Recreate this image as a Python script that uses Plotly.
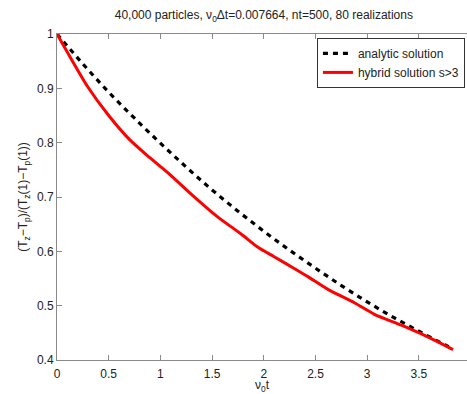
import plotly.graph_objects as go

# Data
t_analytic = [0, 0.25, 0.5, 0.75, 1.0, 1.25, 1.5, 1.75, 2.0, 2.25, 2.5, 2.75, 3.0, 3.25, 3.5, 3.75, 3.83]
y_analytic = [1.0, 0.945, 0.893, 0.845, 0.799, 0.755, 0.713, 0.674, 0.637, 0.602, 0.569, 0.537, 0.507, 0.479, 0.453, 0.428, 0.421]

t_hybrid = [0, 0.15, 0.3, 0.5, 0.7, 0.9, 1.1, 1.3, 1.55, 1.78, 1.94, 2.1, 2.29, 2.43, 2.62, 2.88, 3.07, 3.33, 3.59, 3.83]
y_hybrid = [1.0, 0.950, 0.902, 0.850, 0.806, 0.772, 0.740, 0.705, 0.664, 0.632, 0.608, 0.590, 0.569, 0.553, 0.530, 0.505, 0.484, 0.464, 0.442, 0.419]

x_ticks = [0, 0.5, 1, 1.5, 2, 2.5, 3, 3.5]
x_tick_text = ["0", "0.5", "1", "1.5", "2", "2.5", "3", "3.5"]
y_ticks = [0.4, 0.5, 0.6, 0.7, 0.8, 0.9, 1.0]
y_tick_text = ["0.4", "0.5", "0.6", "0.7", "0.8", "0.9", "1"]

FONT = "Liberation Sans, Arial, Helvetica, sans-serif"
AXIS = "#8a8a8a"

fig = go.Figure()
fig.add_trace(go.Scatter(x=t_analytic, y=y_analytic, mode="lines", name="analytic solution",
                         line=dict(color="black", width=3.2, dash="5px,5px", shape="spline")))
fig.add_trace(go.Scatter(x=t_hybrid, y=y_hybrid, mode="lines", name="hybrid solution s>3",
                         line=dict(color="#ff0000", width=3, shape="spline", smoothing=0.8)))

fig.update_layout(
    width=467, height=394,
    margin=dict(l=57, r=0, t=34, b=34, autoexpand=False),
    paper_bgcolor="white", plot_bgcolor="white",
    font=dict(family=FONT, size=12, color="#222222"),
    title=dict(text="40,000 particles, ν<sub>0</sub>Δt=0.007664, nt=500, 80 realizations",
               x=0.565, xanchor="center", y=1 - 15 / 394, yanchor="middle", yref="container",
               font=dict(size=12, color="#222222")),
    showlegend=True,
    legend=dict(x=0.634, y=0.988, xanchor="left", yanchor="top",
                bordercolor="#333333", borderwidth=1, bgcolor="white",
                font=dict(size=12, color="#222222"), itemwidth=30,
                tracegroupgap=0),
    xaxis=dict(range=[0, 3.965], tickvals=x_ticks, ticktext=x_tick_text,
               showgrid=False, zeroline=False, showline=True, linecolor=AXIS, linewidth=1,
               ticks="inside", ticklen=5, tickcolor=AXIS, mirror="ticks",
               ticklabelstandoff=3,
               title=dict(text="ν<sub>0</sub>t", standoff=4, font=dict(size=12)),
               automargin=False),
    yaxis=dict(range=[0.4, 1.0], tickvals=y_ticks, ticktext=y_tick_text,
               showgrid=False, zeroline=False, showline=True, linecolor=AXIS, linewidth=1,
               ticks="inside", ticklen=5, tickcolor=AXIS,
               title=dict(text="(T<sub>z</sub>−T<sub>p</sub>)/(T<sub>z</sub>(1)−T<sub>p</sub>(1))",
                          standoff=6, font=dict(size=12)),
               automargin=False),
)

fig.write_html("out.html")
